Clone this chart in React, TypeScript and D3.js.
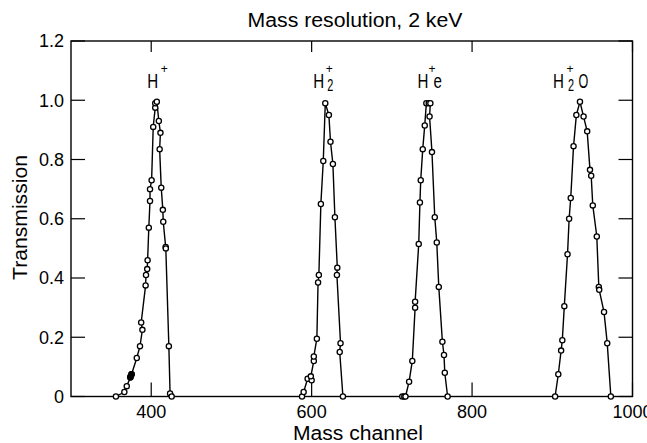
import React from "react";
import * as d3 from "d3";

// ---- data ----
const xTicks = [400, 600, 800, 1000];
const yTicks = [0, 0.2, 0.4, 0.6, 0.8, 1.0, 1.2];
const yTickLabels = ["0", "0.2", "0.4", "0.6", "0.8", "1.0", "1.2"];

const peakH: [number, number][] = [
  [356, 0], [366.5, 0.015], [369.5, 0.035], [374, 0.065], [375.5, 0.075],
  [382, 0.13], [386, 0.17], [389, 0.225], [387.5, 0.25], [393, 0.375],
  [393.5, 0.41], [395, 0.43], [395.5, 0.46], [397, 0.57], [398.5, 0.66],
  [398.5, 0.7], [400.5, 0.73], [402.5, 0.91], [405, 0.975], [405, 0.99],
  [407, 0.995], [409.5, 0.93], [411.5, 0.89], [410.5, 0.835], [412.5, 0.705],
  [414.5, 0.63], [415, 0.59], [418, 0.505], [418.2, 0.5], [422, 0.17],
  [423.5, 0.01], [425.5, 0],
];
const peakH2: [number, number][] = [
  [588, 0], [590, 0.015], [595, 0.06], [600, 0.055], [599, 0.068],
  [602.7, 0.12], [602.7, 0.135], [606.5, 0.195], [608, 0.385], [609, 0.41],
  [611.5, 0.65], [614.5, 0.795], [617, 0.99], [621.5, 0.95], [623.5, 0.86],
  [626.5, 0.785], [629, 0.605], [632, 0.435], [631.5, 0.41], [636, 0.18],
  [635, 0.15], [639, 0],
];
const peakHe: [number, number][] = [
  [713, 0], [715.5, 0], [717, 0], [721.5, 0.05], [725.5, 0.12], [729, 0.3],
  [729, 0.32], [733.5, 0.515], [735, 0.655], [736, 0.73], [738.5, 0.835],
  [741, 0.915], [743, 0.99], [746, 0.99], [748, 0.99], [747, 0.945],
  [750, 0.825], [753.5, 0.605], [756, 0.52], [758.5, 0.37], [763, 0.185],
  [765, 0.14], [766, 0.08], [769.5, 0],
];
const peakH2O: [number, number][] = [
  [903.5, 0], [907.5, 0.075], [911, 0.155], [912.5, 0.19], [915, 0.305],
  [919, 0.48], [921, 0.6], [923, 0.67], [926.5, 0.845], [930, 0.95],
  [934.5, 0.995], [939, 0.945], [943.5, 0.895], [947, 0.765], [948.5, 0.745],
  [950.5, 0.645], [955.5, 0.54], [958, 0.37], [958.5, 0.36], [964.5, 0.285],
  [968.5, 0.18], [973, 0],
];
const filledPoints: [number, number][] = [[374, 0.065], [375.5, 0.075]];
const peaks = [peakH, peakH2, peakHe, peakH2O];

// peak labels: channel where each label starts
const labelChannels = [395, 602, 732, 901];

const W = 647, H = 443;
const M = { left: 71, right: 647 - 632.5, top: 41, bottom: 443 - 396.5 };

export default function App() {
  const x = d3.scaleLinear().domain([300, 1000]).range([M.left, W - M.right]);
  const y = d3.scaleLinear().domain([0, 1.2]).range([H - M.bottom, M.top]);
  const line = d3.line<[number, number]>().x(d => x(d[0])).y(d => y(d[1]));
  const font = "'Liberation Sans', Arial, Helvetica, sans-serif";
  const x0 = x(300), x1 = x(1000), y0 = y(0), y1 = y(1.2);

  const Hl = (cx: number, key: string) => (
    <text key={key} transform={`translate(${cx},87.5) scale(0.72,1)`} fontSize={21} fontFamily={font}>H</text>
  );
  const plus = (cx: number, key: string) => (
    <text key={key} x={cx} y={73} fontSize={12} fontFamily={font} textAnchor="middle">+</text>
  );
  const two = (cx: number, key: string) => (
    <text key={key} transform={`translate(${cx},91) scale(0.68,1)`} fontSize={16} fontFamily={font}>2</text>
  );

  const lx = labelChannels.map(c => x(c));

  return (
    <svg width={W} height={H} style={{ position: "fixed", left: 0, top: 0, background: "#fff" }}>
      <rect x={0} y={0} width={W} height={H} fill="#fff" />
      {/* title */}
      <text x={355} y={27} fontSize={20} fontFamily={font} textAnchor="middle"
        textLength={215} lengthAdjust="spacingAndGlyphs">Mass resolution, 2 keV</text>
      {/* frame */}
      <rect x={x0} y={y1} width={x1 - x0} height={y0 - y1} fill="none" stroke="#000" strokeWidth={1.4} />
      {/* y ticks both sides */}
      {yTicks.map((t, i) => (
        <g key={"yt" + i}>
          <line x1={x0} x2={x0 + 14} y1={y(t)} y2={y(t)} stroke="#000" strokeWidth={1.2} />
          <line x1={x1} x2={x1 - 14} y1={y(t)} y2={y(t)} stroke="#000" strokeWidth={1.2} />
          <text x={64} y={y(t)} dy="0.36em" fontSize={18} fontFamily={font} textAnchor="end">{yTickLabels[i]}</text>
        </g>
      ))}
      {/* x ticks top and bottom */}
      {xTicks.map((t, i) => (
        <g key={"xt" + i}>
          <line x1={x(t)} x2={x(t)} y1={y0} y2={y0 - 14} stroke="#000" strokeWidth={1.2} />
          <line x1={x(t)} x2={x(t)} y1={y1} y2={y1 + 11} stroke="#000" strokeWidth={1.2} />
          <text x={x(t)} y={418} fontSize={18} fontFamily={font} textAnchor="middle">{t}</text>
        </g>
      ))}
      {/* axis titles */}
      <text x={358} y={439.5} fontSize={20} fontFamily={font} textAnchor="middle"
        textLength={130} lengthAdjust="spacingAndGlyphs">Mass channel</text>
      <text transform={`translate(26.5,217.5) rotate(-90)`} fontSize={20} fontFamily={font} textAnchor="middle"
        textLength={125} lengthAdjust="spacingAndGlyphs">Transmission</text>
      {/* peak labels */}
      {Hl(lx[0], "h1")}{plus(lx[0] + 17, "p1")}
      {Hl(lx[1], "h2")}{plus(lx[1] + 16, "p2")}{two(lx[1] + 14, "t2")}
      {Hl(lx[2], "h3")}{plus(lx[2] + 14.5, "p3")}
      <text transform={`translate(${lx[2] + 16},88) scale(0.72,1)`} fontSize={21} fontFamily={font}>e</text>
      {Hl(lx[3], "h4")}{plus(lx[3] + 17, "p4")}{two(lx[3] + 15, "t4")}
      <text transform={`translate(${lx[3] + 25.5},88) scale(0.6,1)`} fontSize={21} fontFamily={font}>O</text>
      {/* data */}
      {peaks.map((p, i) => (
        <path key={"l" + i} d={line(p) || ""} fill="none" stroke="#000" strokeWidth={1.4} />
      ))}
      {peaks.map((p, i) => (
        <g key={"g" + i}>
          {p.map((d, j) => (
            <circle key={j} cx={x(d[0])} cy={y(d[1])} r={2.6} fill="#fff" stroke="#000" strokeWidth={1.3} />
          ))}
        </g>
      ))}
      {filledPoints.map((d, j) => (
        <circle key={"f" + j} cx={x(d[0])} cy={y(d[1])} r={2.8} fill="#000" stroke="#000" strokeWidth={1.2} />
      ))}
    </svg>
  );
}
